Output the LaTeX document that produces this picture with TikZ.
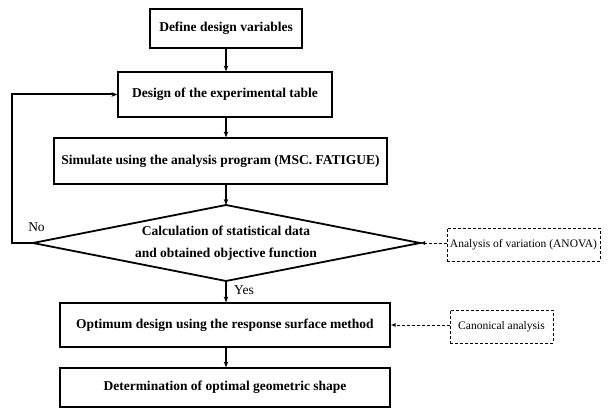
\documentclass[tikz,border=0pt]{standalone}
\usepackage{fontspec}
\setmainfont{Liberation Serif}
\usetikzlibrary{arrows.meta}
\begin{document}
\begin{tikzpicture}[x=1pt,y=-1pt,
  box/.style={draw,line width=1.2pt,inner sep=0pt,align=center,font=\fontsize{13.5}{16}\selectfont\bfseries},
  sidebox/.style={draw,densely dashed,line width=0.8pt,inner sep=0pt,align=center,font=\fontsize{11.5}{14}\selectfont},
  arr/.style={line width=1.4pt,-{Stealth[length=6pt,width=4.5pt]}},
  openarr/.style={line width=0.9pt,densely dashed,-{Latex[open,length=5pt,width=4pt]}},
  lbl/.style={font=\fontsize{13.5}{16}\selectfont,inner sep=0pt}]
\useasboundingbox (0,0) rectangle (611,409);
\node[box,minimum width=152pt,minimum height=39pt] (b1) at (226,28.5) {Define design variables};
\node[box,minimum width=214pt,minimum height=45pt] (b2) at (225,94.5) {Design of the experimental table};
\node[box,minimum width=333pt,minimum height=46pt] (b3) at (220.5,161) {Simulate using the analysis program (MSC. FATIGUE)};
\node[font=\fontsize{13.5}{22}\selectfont\bfseries,align=center,inner sep=0pt] (dec) at (226,243) {Calculation of statistical data\\and obtained objective function};
\coordinate (dN) at (226,205);
\coordinate (dE) at (420,243);
\coordinate (dS) at (226,281);
\coordinate (dW) at (33,243);
\draw[line width=1.8pt,line join=miter] (dN) -- (dE) -- (dS) -- (dW) -- cycle;
\node[box,minimum width=330pt,minimum height=44pt] (b4) at (225,325) {Optimum design using the response surface method};
\node[box,minimum width=330pt,minimum height=39pt] (b5) at (225,387.5) {Determination of optimal geometric shape};
\node[sidebox,minimum width=153pt,minimum height=33pt] (anova) at (523.5,244.5) {Analysis of variation (ANOVA)};
\node[sidebox,minimum width=103pt,minimum height=33pt] (canon) at (501.5,326.5) {Canonical analysis};
\coordinate (loopB) at (12,243);
\coordinate (loopT) at (12,94.5);
\draw[arr] (b1.south -| dN) -- (b2.north -| dN);
\draw[arr] (b2.south -| dN) -- (b3.north -| dN);
\draw[arr] (b3.south -| dN) -- (dN);
\draw[arr] (dS) -- (b4.north -| dS);
\draw[arr] (b4.south -| dS) -- (b5.north -| dS);
\draw[line width=2pt,-{Stealth[length=6pt,width=4.5pt]}] (dW) -- (loopB) -- (loopT) -- (b2.west);
\draw[openarr] (anova.west |- dE) -- (dE);
\draw[openarr] (canon.west |- b4.east) -- (b4.east);
\node[lbl] (no) at (36.5,227) {No};
\node[lbl] (yes) at (244,290) {Yes};
\end{tikzpicture}
\end{document}
